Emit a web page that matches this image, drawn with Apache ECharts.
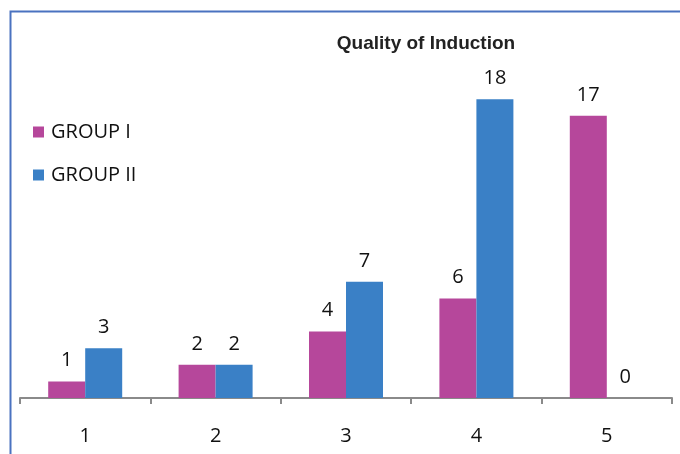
<!DOCTYPE html>
<html>
<head>
<meta charset="utf-8">
<script src="https://cdn.jsdelivr.net/npm/echarts@6/dist/echarts.min.js"></script>
<style>
  html, body { margin: 0; padding: 0; background: #fff; }
  #chart { width: 680px; height: 454px; }
</style>
</head>
<body>
<div id="chart"></div>
<script>
// Induction quality scores by group
var categories = ['1', '2', '3', '4', '5'];
var groupI = [1, 2, 4, 6, 17];
var groupII = [3, 2, 7, 18, 0];
var seriesNames = ['GROUP I', 'GROUP II'];

var chart = echarts.init(document.getElementById('chart'));

var labelStyle = {
  show: true,
  position: 'top',
  distance: 11,
  color: '#111',
  fontSize: 20,
  fontFamily: 'Open Sans, Liberation Sans, sans-serif'
};

chart.setOption({
  animation: false,
  title: {
    text: 'Quality of Induction',
    left: 421,
    top: 29,
    textAlign: 'center',
    textStyle: {
      fontFamily: 'Liberation Sans, Arial, sans-serif',
      fontSize: 19,
      fontWeight: 'bold',
      color: '#222'
    }
  },
  legend: {
    orient: 'vertical',
    left: 28,
    top: 117,
    itemWidth: 11,
    itemHeight: 11,
    itemGap: 23,
    icon: 'rect',
    textStyle: {
      fontFamily: 'Open Sans, Liberation Sans, sans-serif',
      fontSize: 20,
      color: '#111',
      padding: [0, 0, 0, 2]
    },
    data: seriesNames
  },
  graphic: [
    {
      type: 'polyline',
      shape: { points: [[10.5, 454], [10.5, 11.5], [680, 11.5]] },
      style: { stroke: '#4A72C0', lineWidth: 2, fill: null },
      silent: true
    }
  ],
  grid: { left: 20, right: 8, top: 66, bottom: 56, containLabel: false },
  xAxis: {
    type: 'category',
    data: categories,
    axisLine: { lineStyle: { color: '#8a8a8a', width: 2 } },
    axisTick: { show: true, length: 6, lineStyle: { color: '#8a8a8a', width: 2 } },
    axisLabel: {
      color: '#111',
      fontSize: 20,
      margin: 28,
      fontFamily: 'Open Sans, Liberation Sans, sans-serif'
    }
  },
  yAxis: {
    type: 'value',
    min: 0,
    max: 20,
    show: false,
    splitLine: { show: false }
  },
  series: [
    {
      name: seriesNames[0],
      type: 'bar',
      data: groupI,
      barWidth: 37,
      barGap: '0%',
      itemStyle: { color: '#B6479B' },
      label: labelStyle
    },
    {
      name: seriesNames[1],
      type: 'bar',
      data: groupII,
      barWidth: 37,
      barGap: '0%',
      itemStyle: { color: '#3A80C6' },
      label: labelStyle
    }
  ]
});
</script>
</body>
</html>
